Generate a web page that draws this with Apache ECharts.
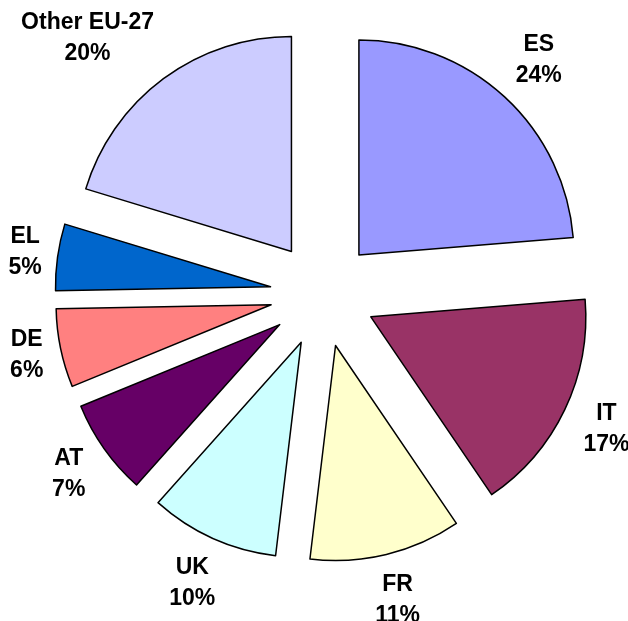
<!DOCTYPE html>
<html>
<head>
<meta charset="utf-8">
<title>Exploded pie</title>
<script src="https://cdn.jsdelivr.net/npm/echarts@6/dist/echarts.min.js"></script>
<style>
  html, body { margin: 0; padding: 0; background: #fff; }
  #chart { width: 628px; height: 621px; }
</style>
</head>
<body>
<div id="chart"></div>
<script>
// --- data ---
const countries = ['ES', 'IT', 'FR', 'UK', 'AT', 'DE', 'EL', 'Other EU-27'];
const shares = [23.7, 16.8, 11.4, 9.7, 7.2, 5.9, 5.0, 20.3];
const colors = ['#9999FF', '#993366', '#FFFFCC', '#CCFFFF', '#660066', '#FF8080', '#0066CC', '#CCCCFF'];

// --- geometry ---
const CENTER = [323, 294];
const RADIUS = 215;
const EXPLODE = 53;   // every slice pulled out
const GAP = 12;       // label clearance beyond the exploded rim
const TOP_MARGIN = 7; // labels are kept inside the top edge

const chart = echarts.init(document.getElementById('chart'), null, { renderer: 'canvas' });

const sliceData = countries.map((name, i) => ({
  name: name,
  value: shares[i],
  selected: true,
  itemStyle: { color: colors[i] }
}));

// labels ride on a transparent twin pie, then get pushed out radially
const labelData = countries.map((name, i) => ({ name: name, value: shares[i] }));

// how far a label box centred at (x, y) sits beyond the required clearance
function clearance(x, y, hw, hh) {
  const vx = x - CENTER[0], vy = y - CENTER[1];
  const len = Math.hypot(vx, vy);
  const ux = vx / len, uy = vy / len;
  return len - (RADIUS + EXPLODE + GAP + hw * Math.abs(ux) + hh * Math.abs(uy));
}

function placeLabel(p) {
  const r = p.labelRect;
  const hw = r.width / 2, hh = r.height / 2;
  const mx = r.x + hw, my = r.y + hh;
  const vx = mx - CENTER[0], vy = my - CENTER[1];
  const len = Math.hypot(vx, vy);
  const ux = vx / len, uy = vy / len;
  const target = RADIUS + EXPLODE + GAP + hw * Math.abs(ux) + hh * Math.abs(uy);
  let x = CENTER[0] + target * ux;
  let y = CENTER[1] + target * uy;

  // too high: pin to the top and slide sideways until it clears the pie again
  if (y - hh < TOP_MARGIN) {
    y = TOP_MARGIN + hh;
    const side = ux < 0 ? -1 : 1;
    let lo = 0, hi = 1000;
    for (let k = 0; k < 40; k++) {
      const mid = (lo + hi) / 2;
      if (clearance(CENTER[0] + side * mid, y, hw, hh) < 0) lo = mid; else hi = mid;
    }
    x = CENTER[0] + side * hi;
  }
  return { dx: x - mx, dy: y - my };
}

const option = {
  animation: false,
  series: [
    {
      type: 'pie',
      center: CENTER,
      radius: RADIUS,
      startAngle: 90,
      clockwise: true,
      selectedMode: 'multiple',
      selectedOffset: EXPLODE,
      silent: true,
      avoidLabelOverlap: false,
      label: { show: false },
      labelLine: { show: false },
      itemStyle: { borderColor: '#000', borderWidth: 1.5 },
      select: { itemStyle: { borderColor: '#000', borderWidth: 1.5 } },
      emphasis: { disabled: true },
      data: sliceData
    },
    {
      type: 'pie',
      center: CENTER,
      radius: [250, 290],
      startAngle: 90,
      clockwise: true,
      silent: true,
      avoidLabelOverlap: false,
      itemStyle: { color: 'rgba(0,0,0,0)', borderWidth: 0 },
      emphasis: { disabled: true },
      labelLine: { show: false },
      label: {
        show: true,
        position: 'inside',
        overflow: 'none',
        color: '#000',
        fontFamily: 'Liberation Sans, Arial, sans-serif',
        fontWeight: 'bold',
        fontSize: 23,
        lineHeight: 31,
        formatter: p => p.name + '\n' + Math.round(p.percent) + '%'
      },
      labelLayout: placeLabel,
      data: labelData
    }
  ]
};

chart.setOption(option);
</script>
</body>
</html>
